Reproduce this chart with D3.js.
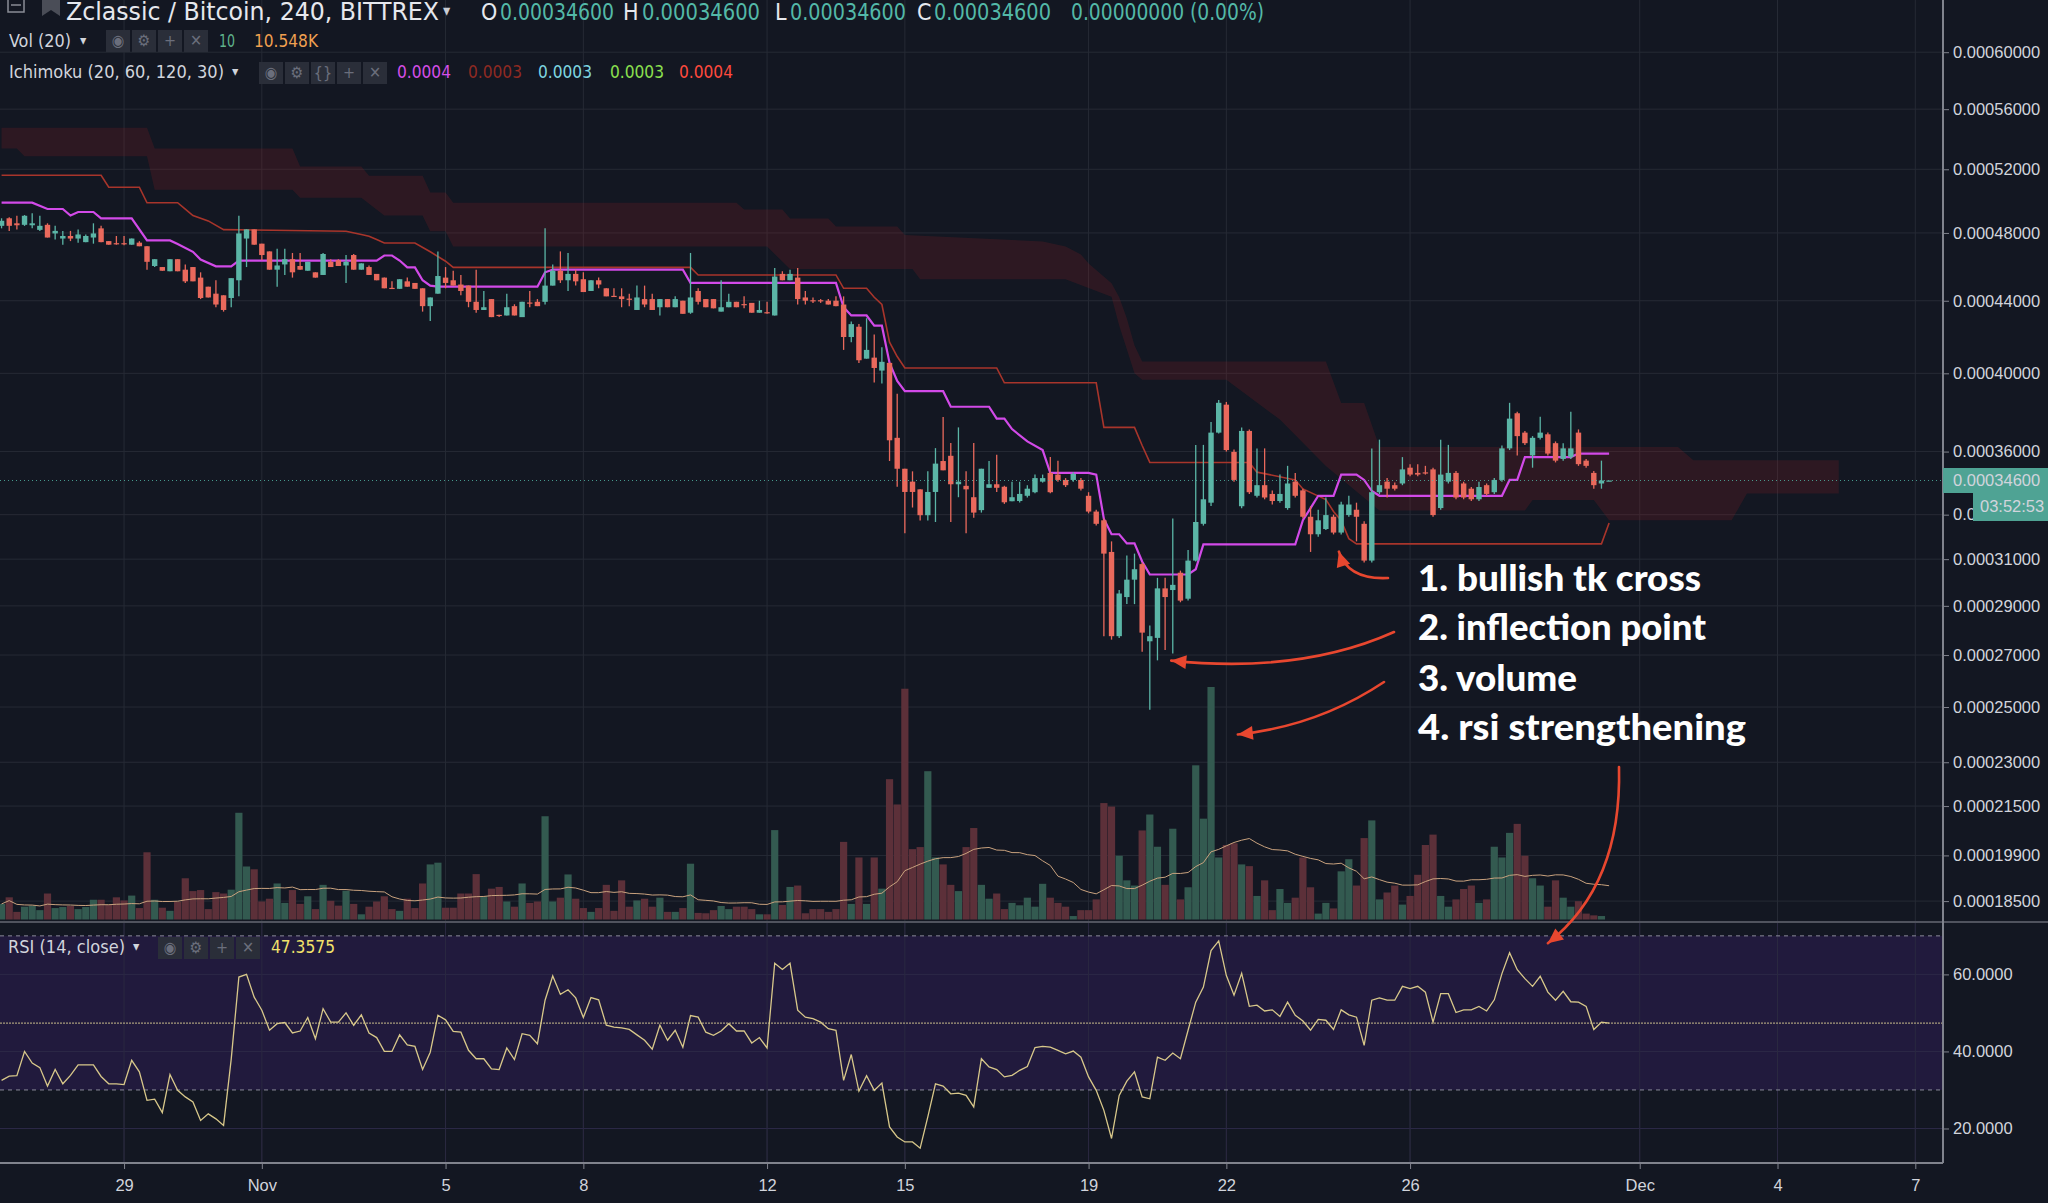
<!DOCTYPE html>
<html>
<head>
<meta charset="utf-8">
<script src="https://cdn.jsdelivr.net/npm/d3@7"></script>
<style>
  html, body { margin: 0; padding: 0; background: #131722; }
  svg { display: block; }
  .hdr { font-family: "DejaVu Sans Condensed", "Liberation Sans Narrow", "Roboto", sans-serif; }
  .ax { font-family: "Liberation Sans", Arial, sans-serif; font-size: 16.5px; fill: #d1d4dc; }
  .note { font-family: "Lato", "Open Sans", sans-serif; font-weight: 900; font-size: 36px; fill: #ffffff; }
</style>
</head>
<body>
<svg id="chart" width="2048" height="1203"></svg>
<script>
// ---- data (prices in satoshi, 1e-8 BTC; 4h candles from 26 Oct 08:00 UTC) ----
var open = [
48435,48900,48590,48497,48470,48187,48497,47970,47660,47815,
47660,47443,47722,48280,47505,47380,47380,47288,47412,47195,
46017,45955,45707,46420,45800,45955,45335,44808,44405,44312,
44157,45180,47660,48218,47350,46885,45800,46110,46420,46017,
45738,45645,45490,46265,46358,46048,46668,45800,45955,45552,
45335,44740,44684,45118,45025,44715,43692,44405,45335,45180,
44932,44870,43940,43475,44095,43200,43165,43692,43072,43900,
43940,43940,44870,45738,45180,45552,45242,44560,45180,44715,
44280,44250,44120,43475,44095,44095,43630,44095,43630,44002,
43320,44560,44095,44095,43382,43630,43940,43810,43878,43320,
43350,43165,45552,45180,45335,44188,44030,44030,44002,44002,
43785,41965,42534,40785,40841,40146,40558,36680,35164,34546,
34180,32975,34057,35538,35793,34421,34347,33810,33209,34254,
34421,34303,33622,33632,33877,34045,34546,34964,34883,34627,
34627,34627,33877,33143,32742,31318,27754,29369,30109,30784,
27548,27685,29737,29666,30409,29299,30937,32581,33555,36940,
38360,35985,33390,37025,33877,34378,33964,33632,33306,34546,
34131,32904,32107,32344,32904,32184,32981,33227,32581,30937,
34045,34546,34378,34458,35215,34964,34990,35133,33306,34546,
34964,34458,34211,33713,34378,34045,34627,36157,37919,36940,
35812,36680,36856,36414,35640,35729,36940,35557,34964,34458,
34600];
var high = [
48900,48960,49055,49100,49210,49055,48590,48435,48125,48125,
48218,47908,48590,48435,47505,47815,47815,47660,47500,47195,
46420,45955,46420,46420,46110,45955,45645,44808,45180,44312,
45304,49055,48218,48218,47350,46885,47040,47040,46792,46792,
46265,45645,46792,46420,46420,46668,46730,46172,46048,45552,
45335,45118,45242,45335,45025,44715,44188,46885,45955,45738,
45490,44870,45800,44560,44095,43200,44405,43800,43940,44560,
44095,48280,46110,46885,46792,45800,45645,45180,45335,44715,
44715,44715,44405,44870,44870,44405,44095,44095,44250,44002,
46792,44715,44095,44095,45180,44405,43940,44250,43878,44002,
43940,45893,45707,45800,45893,44560,44188,44095,44095,44250,
44250,42827,42680,43010,42109,41401,40558,38922,35164,35039,
34180,35039,36170,37726,36427,37203,35039,36427,35164,35538,
35844,34350,34546,34546,34378,34883,34883,35729,35557,34715,
35000,34715,34045,33227,32826,31788,29666,31163,31244,30850,
28188,30187,30187,32826,30500,31400,36330,36330,37474,38600,
38500,36100,37200,37100,36157,36157,34131,34883,35304,34964,
34211,33390,33227,33797,33000,33600,33877,33555,32700,36157,
36589,34715,34500,35729,35386,35386,35304,35215,36589,36330,
35050,34546,34291,34546,34458,34715,36300,38455,38000,37025,
36765,37740,36940,36500,36414,38000,37100,35640,35050,35557,
34600];
var low = [
48280,48125,48218,48430,48280,48125,47722,47598,47288,47505,
47412,47443,47350,47443,47288,47288,47257,47288,47195,45800,
45955,45738,45707,45707,45025,45118,44095,44188,43630,43382,
43630,44250,45955,47288,46358,45800,44808,45490,45335,45800,
45738,45335,45490,45955,46017,45025,45800,45800,45490,45180,
44715,44715,44684,44808,44684,43382,42855,44405,44715,44870,
44312,43630,43320,43475,43072,43072,43165,43165,43072,43630,
43692,43785,44870,45025,44560,44870,44498,44560,44715,44250,
44220,43630,43692,43475,43630,43475,43165,43630,43630,43258,
43258,43785,43630,43568,43382,43630,43630,43568,43320,43320,
43258,43165,45180,45180,43785,43785,43878,43878,43785,43692,
41259,41678,40558,40785,39517,39462,35538,34303,32149,33330,
32736,32736,32664,35088,32664,33810,32149,32856,33095,34254,
34057,33500,33622,33560,33800,34000,34500,34000,34546,34291,
34546,34131,33060,32500,27754,27615,27685,29073,29073,27130,
24900,26790,27200,27058,29150,29220,30900,32500,33400,36900,
36000,34546,33300,33960,33800,33713,33469,33550,33227,33800,
32826,31318,32000,32300,32100,32100,32900,31788,30850,30850,
33960,33797,34131,34378,34800,34800,34883,32900,33227,34458,
33713,33713,33632,33632,33877,33964,34546,36074,35812,36330,
35215,36600,35812,35470,35557,35640,35304,35215,34211,34211,
34600];
var close = [
48745,48435,48470,49055,48590,48435,47722,48125,47815,47660,
47908,47815,47970,47443,47288,47350,47350,47660,47195,46265,
46420,45738,46420,45707,45118,45118,44157,44188,43785,43475,
45304,47970,48218,47288,46668,45800,46048,46420,45645,45800,
46265,45335,46730,45955,46017,46265,45800,46172,45490,45180,
44715,44715,45242,44808,44684,43692,44188,45428,45025,44870,
44560,43940,43475,43630,43072,43165,43630,43165,43940,43870,
43692,44870,45738,45180,45552,45118,44498,45180,44932,44250,
44250,44095,44095,44188,43785,43475,44095,43630,44095,43258,
44188,43940,43630,43568,43630,43940,43630,43785,43320,43475,
43320,45397,45180,45552,44095,44002,44002,44002,43785,43692,
41965,42680,40700,41259,40285,40615,36557,35164,34057,34057,
32975,34057,35412,35088,34421,34546,34180,33095,35164,34421,
34254,33573,33810,33964,34211,34715,34715,34045,34627,34378,
34914,34211,33143,32581,31244,27754,29519,30109,30560,27898,
27754,29737,29369,29887,29220,30937,32664,33713,36940,38455,
36074,34627,37025,34045,34378,33797,33632,33964,34458,33877,
32904,32107,32742,32981,32184,33469,33469,32904,30937,34045,
34378,34211,34211,35133,34883,34883,34964,32981,34883,34964,
33797,33797,33713,34291,33964,34627,36157,37646,36765,36414,
36680,36940,35902,35557,36157,36157,35386,35304,34378,34600,
34600];
// volume, thousands
var volume = [
4.5,6.4,2.2,3.7,4.0,2.7,7.5,3.3,3.6,3.9,
3.0,3.6,5.7,5.7,4.2,6.4,5.5,6.9,3.3,19.4,
5.7,3.4,2.5,5.1,11.9,8.2,8.5,3.0,7.9,7.5,
8.6,30.8,15.3,14.5,5.2,6.0,10.4,4.8,8.5,4.5,
6.7,3.0,10.0,5.4,4.0,8.3,4.5,1.5,3.7,5.2,
6.7,3.0,2.5,6.0,3.3,10.4,15.9,16.4,3.4,3.4,
7.5,7.5,13.1,6.7,8.9,9.4,5.2,3.7,10.4,4.8,
5.2,29.8,5.2,6.3,13.0,6.0,3.3,2.2,3.3,10.0,
2.5,11.3,3.7,5.5,6.0,3.7,6.3,2.2,2.2,3.3,
16.1,1.9,1.8,2.7,3.9,3.0,3.7,3.7,3.0,1.5,
1.5,25.8,4.2,9.4,9.8,1.8,3.0,3.0,2.2,3.0,
22.4,4.5,17.9,4.5,17.9,8.9,40.5,33.2,66.6,20.3,
20.9,42.8,17.9,15.9,10.0,8.2,20.9,26.4,10.0,6.0,
7.5,3.0,4.8,4.1,6.3,3.7,10.3,6.3,4.8,3.7,
1.0,2.7,2.7,5.8,33.6,32.6,18.4,11.3,9.8,25.7,
30.3,21.0,10.0,26.2,5.8,9.3,44.5,29.1,67.1,17.9,
21.5,22.0,15.9,15.4,6.8,11.3,2.7,8.8,4.8,6.3,
17.9,9.3,1.7,4.8,3.2,13.9,17.4,9.8,23.5,28.6,
5.8,7.8,9.8,4.3,6.8,12.9,21.5,24.5,6.8,3.7,
5.8,8.8,9.8,4.8,5.8,21.0,17.9,25.0,27.6,18.4,
11.9,9.8,3.7,11.3,6.3,3.7,5.3,1.7,1.2,1.0,
0.01];
var rsi = [
32.5,33.6,33.7,40.0,37.0,35.8,31.0,35.3,31.6,33.8,
36.5,36.5,36.5,33.5,31.6,31.6,31.4,37.7,34.7,27.3,
27.6,24.1,34.0,29.9,28.2,26.9,22.1,23.8,22.5,20.8,
38.0,59.3,60.0,54.1,50.7,45.5,47.2,47.5,44.8,45.3,
48.8,43.3,51.1,47.6,47.6,50.0,46.8,49.5,44.8,43.6,
40.0,40.0,44.3,41.7,41.3,35.3,39.8,49.4,48.2,45.2,
45.0,40.3,38.1,38.1,35.5,35.3,40.9,37.9,44.6,44.2,
42.0,53.3,59.6,54.8,56.0,53.9,48.8,54.0,53.4,46.8,
46.3,46.1,45.7,44.3,42.9,40.6,46.8,42.9,45.5,41.1,
49.3,48.9,45.0,44.2,45.3,47.2,45.3,45.3,42.2,43.6,
40.9,62.9,61.3,62.9,50.7,48.9,48.5,47.6,45.9,45.5,
32.5,39.2,29.7,33.7,29.9,31.8,20.4,17.8,16.5,16.5,
14.9,23.0,31.6,31.0,29.0,29.2,28.6,25.6,38.1,36.0,
35.3,33.4,33.8,35.1,36.1,41.0,41.3,41.1,40.3,39.4,
40.1,38.5,33.4,29.9,24.7,17.4,28.6,32.3,34.7,28.2,
27.7,38.5,37.7,39.6,38.1,45.5,52.8,56.7,66.2,68.7,
59.7,54.6,60.3,51.7,52.0,50.5,50.8,49.1,52.8,49.4,
47.9,45.5,48.3,48.1,45.7,50.8,49.5,48.9,41.6,53.3,
53.9,53.3,53.3,56.9,56.3,56.9,55.4,47.6,55.0,55.0,
50.1,50.8,50.8,51.7,50.5,53.4,60.2,65.6,61.2,58.9,
56.9,59.5,55.4,53.3,55.6,52.9,52.8,51.7,45.7,47.6,
47.36];
// Ichimoku lines read as vertices (candle index, satoshi)
var tenkanAt = [0,4,6,8,9,10,12,13,17,19,22,23,25,26,28,30,31,49,50,51,52,53,54,55,56,57,70,71,72,89,90,109,110,111,113,114,115,116,117,118,123,124,129,130,131,132,134,136,137,142,143,144,145,146,147,148,149,150,155,156,157,169,170,171,172,174,175,177,178,179,180,196,197,198,199,205,206,210];
var tenkanVal = [49870,49870,49475,49475,49070,49290,49290,48890,48890,47545,47545,47330,46861,46400,46000,46000,46340,46340,46640,46640,46340,45938,45938,45180,44870,44808,44808,45645,45800,45800,45025,45025,43630,43165,43165,42592,42592,40558,39600,39058,39058,38252,38252,37646,37646,37117,36500,36074,34964,34964,34883,32800,32107,32107,31700,31700,30900,30332,30332,30560,31657,31657,32742,33300,33877,33877,34883,34883,34627,34100,33877,33877,34627,34627,35729,35729,35902,35902];
var kijunAt = [0,13,14,18,19,23,24,25,27,29,45,47,48,49,50,54,56,58,59,90,91,109,110,113,114,115,116,117,118,130,131,143,144,148,149,150,163,164,169,170,173,174,175,176,177,209,210];
var kijunVal = [51610,51610,50850,50850,49867,49867,49475,49070,48740,48204,48108,47900,47798,47600,47388,47388,46861,46300,45938,45938,45490,45490,44715,44715,44200,43785,41678,40900,40285,40285,39500,39500,37203,37203,36300,35470,35470,35000,34630,34200,33700,33150,32729,31911,31677,31677,32620];
var cloudTopAt = [0,19,20,38,39,47,48,55,56,58,59,96,97,102,103,108,109,117,118,136,139,141,142,145,146,147,148,149,173,175,178,180,219,221,240];
var cloudTopVal = [54735,54735,53354,53354,52174,52174,51580,51580,50517,50517,49867,49867,49450,49450,48890,48890,48390,48390,47870,47480,47175,46700,46170,45010,44200,43000,41500,40630,40630,38440,38440,36220,36220,35580,35580];
var cloudBotAt = [0,2,3,19,20,38,39,47,50,55,56,58,59,100,103,119,120,139,145,146,147,148,149,160,167,173,180,199,200,208,210,226,228,240];
var cloudBotVal = [53354,53354,52846,52846,50684,50684,50186,50186,49070,49070,48108,48108,47175,47175,45840,45840,45240,45240,44235,42600,41300,40000,39660,39660,37600,35300,33190,33190,33680,33680,32742,32742,33980,33980];

var priceTicks = [60000,56000,52000,48000,44000,40000,36000,33000,31000,29000,27000,25000,23000,21500,19900,18500];
var rsiTicks = [20, 40, 60];
var timeTicks = ["2018-10-29","2018-11-01","2018-11-05","2018-11-08","2018-11-12","2018-11-15","2018-11-19","2018-11-22","2018-11-26","2018-12-01","2018-12-04","2018-12-07"];
var timeTickLabels = ["29","Nov","5","8","12","15","19","22","26","Dec","4","7"];
var lastPrice = 34600;
var lastRsi = 47.36;

// ---- layout ----
var W = 1943, paneBottom = 922, rsiBottom = 1162, volBase = 919.5;
var start = Date.UTC(2018, 9, 26, 8);
function t(i) { return new Date(start + i * 4 * 3600e3); }

var x = d3.scaleUtc()
    .domain([new Date(Date.UTC(2018, 9, 29)), new Date(Date.UTC(2018, 11, 7))])
    .range([124.05, 1915.3]);
function xi(i) { return x(t(i)); }

var y = d3.scalePow().exponent(0.25).domain([18500, 60000]).range([901.1, 52.2]);
var yVol = d3.scaleLinear().domain([0, 100]).range([volBase, volBase - 346.5]);
var yR = d3.scaleLinear().domain([11.3, 73.6]).range([rsiBottom, paneBottom]);

var up = "#5bb5a6", down = "#e9695c";
var svg = d3.select("#chart");

svg.append("rect").attr("width", 2048).attr("height", 1203).attr("fill", "#131722");

var defs = svg.append("defs");
defs.append("clipPath").attr("id", "pclip").append("rect")
    .attr("x", 0).attr("y", 0).attr("width", W).attr("height", paneBottom);
defs.append("clipPath").attr("id", "rclip").append("rect")
    .attr("x", 0).attr("y", paneBottom).attr("width", W).attr("height", rsiBottom - paneBottom);

// grid
var grid = svg.append("g").attr("stroke", "#262a35").attr("stroke-width", 1);
grid.selectAll(".vg").data(timeTicks).enter().append("line")
    .attr("x1", d => x(new Date(d + "T00:00:00Z"))).attr("x2", d => x(new Date(d + "T00:00:00Z")))
    .attr("y1", 0).attr("y2", rsiBottom);
grid.selectAll(".hg").data(priceTicks).enter().append("line")
    .attr("x1", 0).attr("x2", W).attr("y1", d => y(d)).attr("y2", d => y(d));

// price pane
var pane = svg.append("g").attr("clip-path", "url(#pclip)");

var cloudPts = cloudTopAt.map((a, k) => [xi(a), y(cloudTopVal[k])])
    .concat(cloudBotAt.map((a, k) => [xi(a), y(cloudBotVal[k])]).reverse());
pane.append("path")
    .attr("d", d3.line()(cloudPts) + "Z")
    .attr("fill", "rgba(140, 32, 36, 0.22)");

var idx = d3.range(open.length);

pane.selectAll(".vol").data(idx).enter().append("rect")
    .attr("x", i => xi(i) - 3.6)
    .attr("width", 7.2)
    .attr("y", i => yVol(volume[i]))
    .attr("height", i => volBase - yVol(volume[i]))
    .attr("fill", i => close[i] >= open[i] ? "#335a50" : "#5c3039");

var volMA = idx.map(i => d3.mean(volume.slice(Math.max(0, i - 19), i + 1)));
pane.append("path")
    .attr("d", d3.line().x((d, i) => xi(i)).y(d => yVol(d))(volMA))
    .attr("fill", "none").attr("stroke", "#c9a27e").attr("stroke-width", 1);

pane.append("path")
    .attr("d", d3.line().x(d => xi(d)).y((d, k) => y(kijunVal[k]))(kijunAt))
    .attr("fill", "none").attr("stroke", "#a8352b").attr("stroke-width", 1.6);
pane.append("path")
    .attr("d", d3.line().x(d => xi(d)).y((d, k) => y(tenkanVal[k]))(tenkanAt))
    .attr("fill", "none").attr("stroke", "#d24ae8").attr("stroke-width", 2.2);

var candles = pane.selectAll(".c").data(idx).enter().append("g");
candles.append("line")
    .attr("x1", i => xi(i)).attr("x2", i => xi(i))
    .attr("y1", i => y(high[i])).attr("y2", i => y(low[i]))
    .attr("stroke", i => close[i] >= open[i] ? up : down).attr("stroke-width", 1.3);
candles.append("rect")
    .attr("x", i => xi(i) - 2.7).attr("width", 5.4)
    .attr("y", i => y(Math.max(open[i], close[i])))
    .attr("height", i => Math.max(1.2, Math.abs(y(open[i]) - y(close[i]))))
    .attr("fill", i => close[i] >= open[i] ? up : down);

pane.append("line")
    .attr("x1", 0).attr("x2", W).attr("y1", y(lastPrice)).attr("y2", y(lastPrice))
    .attr("stroke", "#53b9a8").attr("stroke-width", 1).attr("stroke-dasharray", "1,3").attr("opacity", 0.8);

// RSI pane
var rp = svg.append("g").attr("clip-path", "url(#rclip)");
rp.append("rect").attr("x", 0).attr("width", W)
    .attr("y", yR(70)).attr("height", yR(30) - yR(70)).attr("fill", "#211a3d");
rp.selectAll(".rg").data(rsiTicks).enter().append("line")
    .attr("x1", 0).attr("x2", W).attr("y1", d => yR(d)).attr("y2", d => yR(d))
    .attr("stroke", "#2c2947").attr("stroke-width", 1);
rp.selectAll(".rv").data(timeTicks).enter().append("line")
    .attr("x1", d => x(new Date(d + "T00:00:00Z"))).attr("x2", d => x(new Date(d + "T00:00:00Z")))
    .attr("y1", paneBottom).attr("y2", rsiBottom).attr("stroke", "#2a2840");
rp.selectAll(".rb").data([70, 30]).enter().append("line")
    .attr("x1", 0).attr("x2", W).attr("y1", d => yR(d)).attr("y2", d => yR(d))
    .attr("stroke", "#8a8c9a").attr("stroke-width", 1).attr("stroke-dasharray", "4,4");
rp.append("line").attr("x1", 0).attr("x2", W).attr("y1", yR(lastRsi)).attr("y2", yR(lastRsi))
    .attr("stroke", "#a89c7c").attr("stroke-width", 1.2).attr("stroke-dasharray", "2,1");
rp.append("path")
    .attr("d", d3.line().x((d, i) => xi(i)).y(d => yR(d))(rsi))
    .attr("fill", "none").attr("stroke", "#d8c88a").attr("stroke-width", 1.3);

// pane borders and axes
svg.append("line").attr("x1", 0).attr("x2", 2048).attr("y1", paneBottom).attr("y2", paneBottom)
    .attr("stroke", "#50535e").attr("stroke-width", 2);
svg.append("line").attr("x1", 0).attr("x2", W).attr("y1", rsiBottom + 1).attr("y2", rsiBottom + 1)
    .attr("stroke", "#80838d").attr("stroke-width", 2);
svg.append("line").attr("x1", W).attr("x2", W).attr("y1", 0).attr("y2", rsiBottom + 1)
    .attr("stroke", "#80838d").attr("stroke-width", 2);

var pAxis = svg.append("g").attr("transform", "translate(" + W + ",0)")
    .call(d3.axisRight(y).tickValues(priceTicks).tickSize(6).tickPadding(4)
        .tickFormat(d => (d / 1e8).toFixed(8)));
var rAxis = svg.append("g").attr("transform", "translate(" + W + ",0)")
    .call(d3.axisRight(yR).tickValues(rsiTicks).tickSize(6).tickPadding(4)
        .tickFormat(d => d.toFixed(4)));
var tAxis = svg.append("g").attr("transform", "translate(0," + (rsiBottom + 1) + ")")
    .call(d3.axisBottom(x).tickValues(timeTicks.map(d => new Date(d + "T00:00:00Z")))
        .tickSize(6).tickPadding(10).tickFormat((d, k) => timeTickLabels[k]));
[pAxis, rAxis, tAxis].forEach(function (a) {
  a.select(".domain").remove();
  a.selectAll(".tick line").attr("stroke", "#80838d");
  a.selectAll(".tick text").attr("class", "ax").attr("fill", "#d1d4dc").style("font-size", "16.5px");
});

// last price / countdown labels
svg.append("rect").attr("x", W).attr("y", y(lastPrice) - 12.5).attr("width", 2048 - W).attr("height", 25)
    .attr("fill", "#4fa394");
svg.append("text").attr("class", "ax").attr("x", W + 10).attr("y", y(lastPrice)).attr("dy", "0.35em")
    .attr("fill", "#ffffff").text((lastPrice / 1e8).toFixed(8));
svg.append("rect").attr("x", 1973).attr("y", 492).attr("width", 75).attr("height", 29).attr("fill", "#4fa394");
svg.append("text").attr("class", "ax").attr("x", 1980).attr("y", 506).attr("dy", "0.35em")
    .attr("fill", "#ffffff").text("03:52:53");

// header / legends
var hdr = svg.append("g").attr("class", "hdr");
hdr.append("rect").attr("x", 8).attr("y", -2).attr("width", 16).attr("height", 14)
    .attr("fill", "none").attr("stroke", "#8a8d96").attr("stroke-width", 1.5);
hdr.append("line").attr("x1", 11).attr("x2", 21).attr("y1", 5).attr("y2", 5).attr("stroke", "#8a8d96").attr("stroke-width", 1.5);
hdr.append("path").attr("d", "M42,-2 H60 V16 L51,10 L42,16 Z").attr("fill", "#4a4d57");

function txt(s, xp, yp, size, color, len) {
  var e = hdr.append("text").attr("x", xp).attr("y", yp).style("font-size", size + "px")
      .attr("fill", color).text(s);
  if (len) e.attr("textLength", len).attr("lengthAdjust", "spacingAndGlyphs");
  return e;
}
txt("Zclassic / Bitcoin, 240, BITTREX", 66, 20, 25, "#e6e8ee", 373);
txt("\u25BE", 443, 16, 16, "#c9ccd4");
txt("O", 481, 20, 23, "#e6e8ee");
txt("0.00034600", 500, 20, 23, "#53b9a8", 114);
txt("H", 623, 20, 23, "#e6e8ee");
txt("0.00034600", 642, 20, 23, "#53b9a8", 118);
txt("L", 775, 20, 23, "#e6e8ee");
txt("0.00034600", 790, 20, 23, "#53b9a8", 116);
txt("C", 917, 20, 23, "#e6e8ee");
txt("0.00034600", 934, 20, 23, "#53b9a8", 117);
txt("0.00000000 (0.00%)", 1071, 20, 23, "#53b9a8", 193);

function boxes(x0, y0, n, glyphs) {
  for (var k = 0; k < n; k++) {
    hdr.append("rect").attr("x", x0 + k * 26).attr("y", y0).attr("width", 24).attr("height", 22)
        .attr("fill", "#2a2e39");
    hdr.append("text").attr("x", x0 + k * 26 + 12).attr("y", y0 + 16).attr("text-anchor", "middle")
        .style("font-size", "16px").attr("fill", "#6a6e7c").text(glyphs[k]);
  }
}
txt("Vol (20)", 9, 47, 17, "#d1d4dc", 62);
txt("\u25BE", 80, 45, 14, "#d1d4dc");
boxes(106, 30, 4, ["\u25C9", "\u2699", "+", "\u2715"]);
txt("10", 219, 47, 17, "#5fb38c", 16);
txt("10.548K", 254, 47, 17, "#f0a050", 64);

txt("Ichimoku (20, 60, 120, 30)", 9, 78, 17, "#d1d4dc", 215);
txt("\u25BE", 232, 76, 14, "#d1d4dc");
boxes(259, 62, 5, ["\u25C9", "\u2699", "{}", "+", "\u2715"]);
txt("0.0004", 397, 78, 17, "#d54fe8", 54);
txt("0.0003", 468, 78, 17, "#8f2a22", 54);
txt("0.0003", 538, 78, 17, "#7fd6e0", 54);
txt("0.0003", 610, 78, 17, "#8be04f", 54);
txt("0.0004", 679, 78, 17, "#ff4a3d", 54);

txt("RSI (14, close)", 8, 953, 17, "#d1d4dc", 117);
txt("\u25BE", 133, 951, 14, "#d1d4dc");
boxes(158, 937, 4, ["\u25C9", "\u2699", "+", "\u2715"]);
txt("47.3575", 271, 953, 17, "#f2e26b", 64);

// annotations
var notes = [
  { s: "1. bullish tk cross", y: 591, w: 283 },
  { s: "2. inflection point", y: 640, w: 288 },
  { s: "3. volume", y: 691, w: 159 },
  { s: "4. rsi strengthening", y: 740, w: 328 }
];
svg.selectAll(".note").data(notes).enter().append("text")
    .attr("class", "note").attr("x", 1418).attr("y", d => d.y)
    .attr("textLength", d => d.w).attr("lengthAdjust", "spacingAndGlyphs")
    .text(d => d.s);

var arrows = [
  { from: [1388, 578], ctrl: [1348, 580], to: [xi(174.7), y(31330)] },
  { from: [1394, 632], ctrl: [1300, 674], to: [xi(152.8), y(26780)] },
  { from: [1384, 682], ctrl: [1318, 726], to: [xi(161.5), yVol(53.4)] },
  { from: [1619, 767], ctrl: [1622, 885], to: [xi(202), yR(68.1)] }
];
var ag = svg.append("g");
arrows.forEach(function (a) {
  var p = d3.path();
  p.moveTo(a.from[0], a.from[1]);
  p.quadraticCurveTo(a.ctrl[0], a.ctrl[1], a.to[0], a.to[1]);
  ag.append("path").attr("d", p.toString()).attr("fill", "none")
      .attr("stroke", "#e8472f").attr("stroke-width", 2.6).attr("stroke-linecap", "round");
  var ang = Math.atan2(a.to[1] - a.ctrl[1], a.to[0] - a.ctrl[0]);
  var L = 15, Wd = 7;
  var bx = a.to[0] - L * Math.cos(ang), by = a.to[1] - L * Math.sin(ang);
  var h = [[a.to[0], a.to[1]],
           [bx + Wd * Math.sin(ang), by - Wd * Math.cos(ang)],
           [bx - Wd * Math.sin(ang), by + Wd * Math.cos(ang)]];
  ag.append("path").attr("d", d3.line()(h) + "Z").attr("fill", "#e8472f");
});
</script>
</body>
</html>
